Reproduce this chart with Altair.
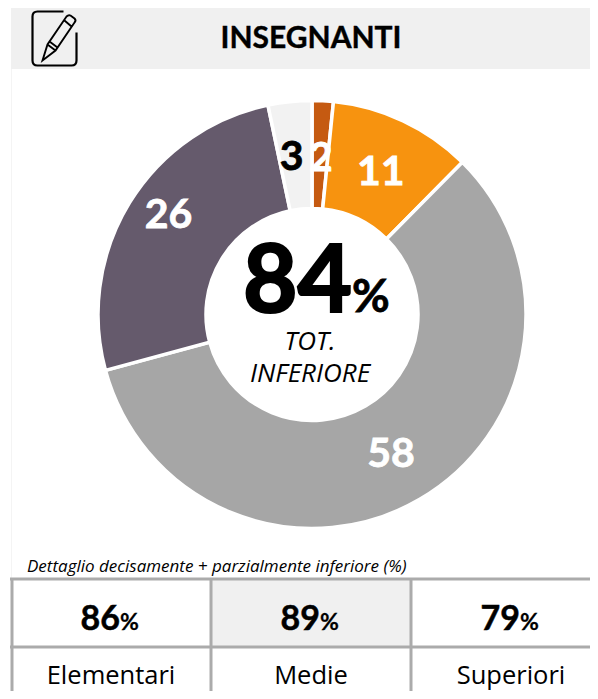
import altair as alt
import pandas as pd

# ---- data -------------------------------------------------
slice_values = [1.6, 10.8, 58.4, 25.9, 3.3]
slice_labels = ["2", "11", "58", "26", "3"]
slice_colors = ["#C55A11", "#F7930F", "#A6A6A6", "#655A6C", "#F2F2F2"]
label_colors = ["white", "white", "white", "white", "black"]
title_text = "INSEGNANTI"
center_value = "84"
center_lines = ["TOT.", "INFERIORE"]
note_text = "Dettaglio decisamente + parzialmente inferiore (%)"
table_values = ["86", "89", "79"]
table_labels = ["Elementari", "Medie", "Superiori"]

# ---- layout (page pixels, minus the 8px page margin) -------
OFF = 8
W, H = 582, 683
FONT = "Lato"
FONT2 = "Open Sans"
def px(v):
    return v - OFF

cx, cy = px(312), px(314.5)
R, R2 = 214, 106
label_radius = 159
label_shift = {0: (1, 3), 1: (1, 2), 2: (-1, 3), 3: (-8, -15), 4: (-4, 2)}
value_split = [120, 320, 520]
label_centers = [111, 311, 511]
col_lines = [12, 211, 411]
row_lines = [579, 647]
TABLE_GRAY = "#ABABAB"
PANEL = "#F0F0F0"

blank = pd.DataFrame({"a": [0]})

def rect(x1, x2, y1, y2, color):
    return alt.Chart(blank).mark_rect(color=color, strokeWidth=0).encode(
        x=alt.value(px(x1)), x2=alt.value(px(x2)),
        y=alt.value(px(y1)), y2=alt.value(px(y2)))

def text(content, x, y, size, bold=False, italic=False, align="center", color="black",
         font=FONT, heavy=0):
    kw = {"stroke": color, "strokeWidth": heavy} if heavy else {}
    return alt.Chart(blank).mark_text(
        font=font, fontSize=size, fontWeight="bold" if bold else "normal",
        fontStyle="italic" if italic else "normal", align=align,
        baseline="alphabetic", color=color, **kw
    ).encode(x=alt.value(px(x)), y=alt.value(px(y)), text=alt.value(content))

layers = []
# header band and left hairline
layers.append(rect(11, 598, 8, 69, PANEL))
layers.append(rect(11, 12, 69, 579, "#F4F4F4"))
layers.append(text(title_text, 311, 48, 30, bold=True, heavy=0.4))

# icon
paper = "M 9 -27 L -17 -27 Q -22 -27 -22 -22 L -22 22 Q -22 27 -17 27 L 17 27 Q 22 27 22 22 L 22 -6"
pencil = ("M -12 22 L -7 6 L 12 -22 Q 14 -24 16 -23 L 20 -20 Q 22 -18 20 -16 L 1 12 Z "
          "M -7 6 L 1 12 M -5 3 L 3 9 M 10 -18 L 17 -12")
for shape, sw in ((paper, 2.2), (pencil, 1.9)):
    layers.append(alt.Chart(blank).mark_point(
        shape=shape, size=4, filled=False, color="black", strokeWidth=sw, opacity=1
    ).encode(x=alt.value(px(54.5)), y=alt.value(px(38.5))))

# donut
df = pd.DataFrame({
    "i": list(range(len(slice_values))),
    "value": slice_values,
    "label": slice_labels,
    "color": slice_colors,
    "label_color": label_colors,
})
layers.append(alt.Chart(df).mark_arc(
    radius=R, radius2=R2, stroke="white", strokeWidth=3.5
).encode(
    x=alt.value(cx), y=alt.value(cy),
    theta=alt.Theta("value:Q", stack=True, scale=alt.Scale(domain=[0, sum(slice_values)])),
    order=alt.Order("i:O"),
    color=alt.Color("color:N", scale=None),
))

# slice labels, at the middle of their slices
for i, (dx, dy) in label_shift.items():
    layers.append(
        alt.Chart(df)
        .transform_window(cum="sum(value)", sort=[alt.SortField("i")])
        .transform_calculate(mid="datum.cum - datum.value / 2")
        .transform_filter(alt.datum.i == i)
        .mark_text(font=FONT, fontSize=41, fontWeight="bold", baseline="middle",
                   align="center", radius=label_radius, dx=dx, dy=dy,
                   stroke=label_colors[i], strokeWidth=0.8)
        .encode(
            x=alt.value(cx), y=alt.value(cy),
            theta=alt.Theta("mid:Q", stack=False, scale=alt.Scale(domain=[0, sum(slice_values)])),
            text=alt.Text("label:N"),
            color=alt.Color("label_color:N", scale=None),
        )
    )

# centre
layers.append(text(center_value, 352, 312, 94, bold=True, align="right", heavy=2.2))
layers.append(text("%", 352, 312, 46, bold=True, align="left", heavy=0.8))
layers.append(text(center_lines[0], 310, 350, 26, italic=True, font=FONT2))
layers.append(text(center_lines[1], 310, 382, 26, italic=True, font=FONT2))

# table
layers.append(text(note_text, 27, 572, 17, italic=True, align="left", font=FONT2))
layers.append(rect(211, 411, row_lines[0], row_lines[1], PANEL))
for y in row_lines:
    layers.append(rect(10, 598, y - 1.5, y + 1.5, TABLE_GRAY))
for x in col_lines:
    layers.append(rect(x - 1.5, x + 1.5, 578, 699, TABLE_GRAY))
for v, sp, lab, lc in zip(table_values, value_split, table_labels, label_centers):
    layers.append(text(v, sp, 630, 34, bold=True, align="right", heavy=0.5))
    layers.append(text("%", sp, 630, 23, bold=True, align="left", heavy=0.3))
    layers.append(text(lab, lc, 684, 25.5, font=FONT2))

chart = alt.layer(*layers).properties(
    width=W, height=H, padding=0, background="white",
    autosize=alt.AutoSizeParams(type="none"),
).configure_view(stroke=None)

chart.save("out.html", embed_options={"renderer": "svg", "actions": False})
